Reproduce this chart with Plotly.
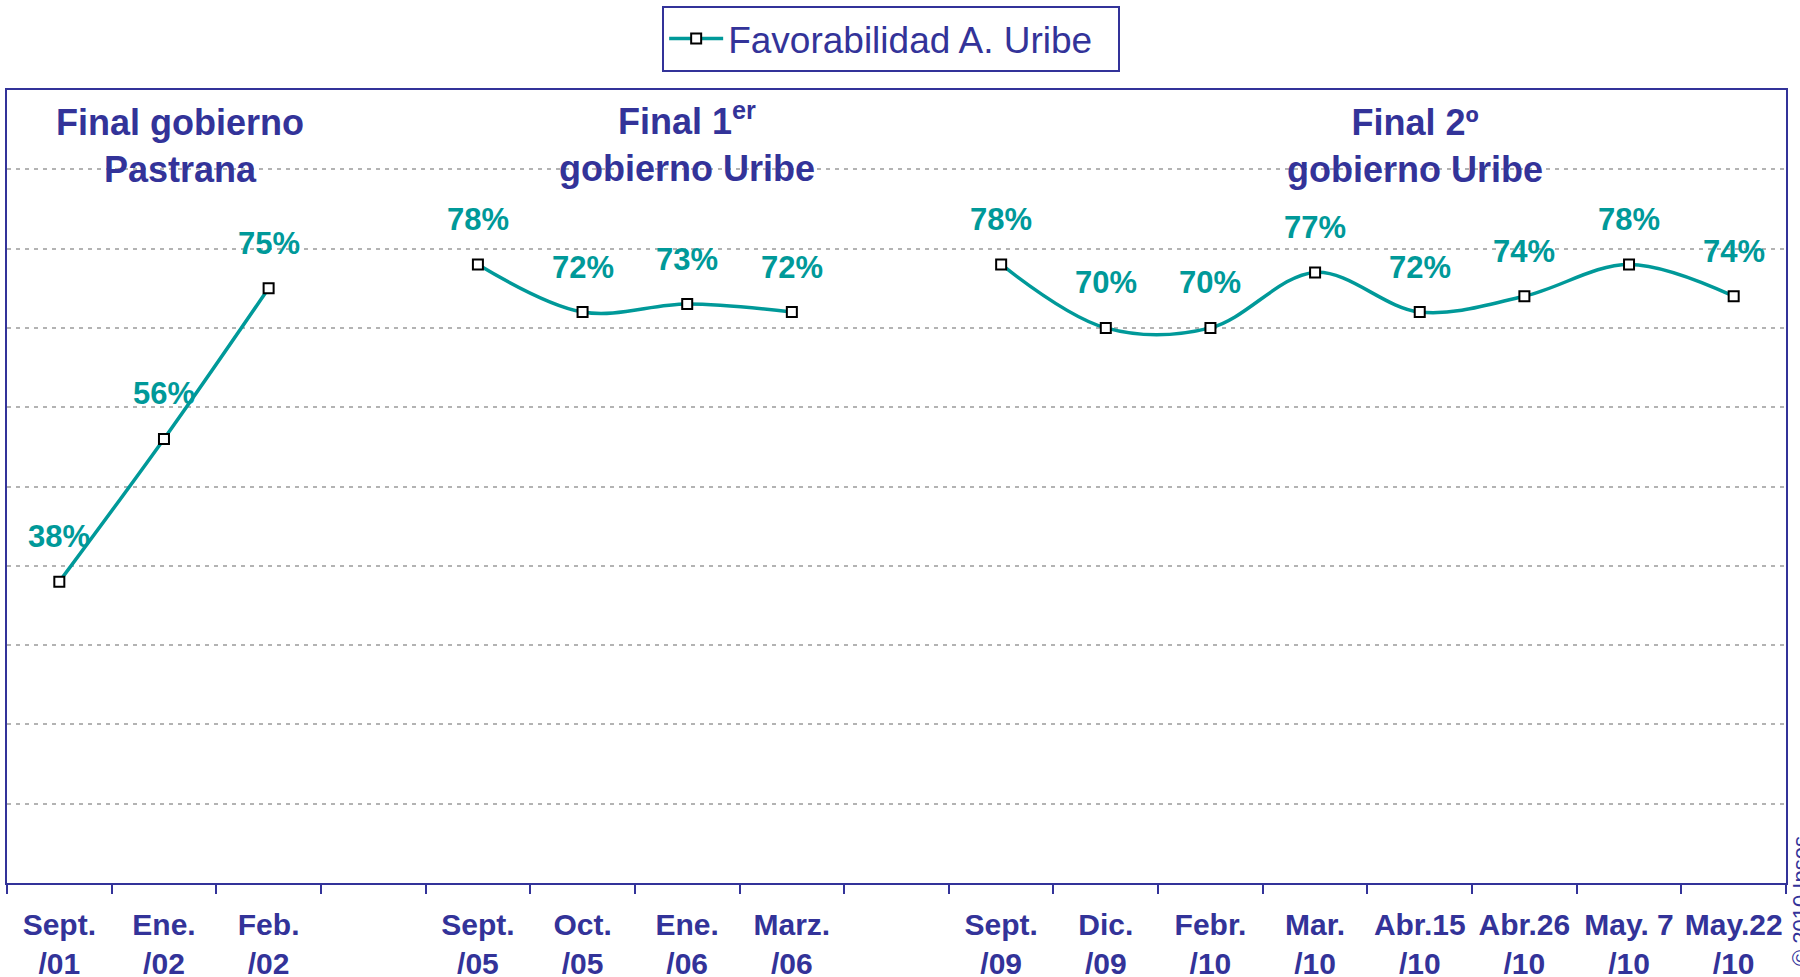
import plotly.graph_objects as go

# ---- data ----
categories = ["Sept.<br>/01", "Ene.<br>/02", "Feb.<br>/02", " ",
              "Sept.<br>/05", "Oct.<br>/05", "Ene.<br>/06", "Marz.<br>/06", "  ",
              "Sept.<br>/09", "Dic.<br>/09", "Febr.<br>/10", "Mar.<br>/10",
              "Abr.15<br>/10", "Abr.26<br>/10", "May. 7<br>/10", "May.22<br>/10"]
favorabilidad = [38, 56, 75, None, 78, 72, 73, 72, None,
                 78, 70, 70, 77, 72, 74, 78, 74]
series_name = "Favorabilidad A. Uribe"

period_titles = ["Final gobierno<br>Pastrana",
                 "Final 1<sup>er</sup><br>gobierno Uribe",
                 "Final 2º<br>gobierno Uribe"]
period_title_x = [1.15, 6.0, 12.95]
period_title_shift = [-10, -4, -10]

NAVY = "#333399"
TEAL = "#009999"
FONT = "Arial, Liberation Sans, sans-serif"

fig = go.Figure()
fig.add_trace(go.Scatter(
    x=categories, y=favorabilidad, name=series_name,
    mode="lines+markers",
    line=dict(color=TEAL, width=3.5, shape="spline", smoothing=1),
    marker=dict(symbol="square", size=10, color="white",
                line=dict(color="black", width=2)),
    connectgaps=False, showlegend=True,
))

annotations = []
for i, v in enumerate(favorabilidad):
    if v is None:
        continue
    annotations.append(dict(
        x=i, y=v, xref="x", yref="y", text=f"{v}%", showarrow=False,
        yshift=45, font=dict(family=FONT, size=31, color=TEAL, weight="bold"),
    ))
for t, xp, ys in zip(period_titles, period_title_x, period_title_shift):
    annotations.append(dict(
        x=xp, y=1, xref="x", yref="paper", yanchor="top", text=t,
        showarrow=False, yshift=ys,
        font=dict(family=FONT, size=36, color=NAVY, weight="bold"),
    ))
annotations.append(dict(
    x=1, y=-0.0227, xref="paper", yref="paper", xanchor="center", yanchor="middle",
    xshift=14, text="© 2010 Ipsos", textangle=-90, showarrow=False,
    font=dict(family=FONT, size=22, color=NAVY),
))

fig.update_layout(
    width=1800, height=977,
    margin=dict(l=7, r=14, t=90, b=94, autoexpand=False),
    paper_bgcolor="white", plot_bgcolor="white",
    font=dict(family=FONT, color=NAVY),
    showlegend=True,
    legend=dict(
        x=0.497, xanchor="center", y=1.106, yanchor="top",
        orientation="h", bordercolor=NAVY, borderwidth=2,
        font=dict(family=FONT, size=37, color=NAVY),
        itemwidth=54, entrywidth=385, bgcolor="white",
    ),
    annotations=annotations,
    xaxis=dict(
        type="category", tickson="boundaries", ticks="outside",
        ticklen=9, tickwidth=2, tickcolor=NAVY, tickangle=0, automargin=False,
        ticklabelstandoff=14,
        showline=True, linecolor=NAVY, linewidth=2, mirror=True,
        showgrid=False, zeroline=False,
        tickfont=dict(family=FONT, size=30, color=NAVY, weight="bold"),
        range=[-0.5, 16.5],
    ),
    yaxis=dict(
        range=[0, 100], dtick=10, showticklabels=False, automargin=False,
        showline=True, linecolor=NAVY, linewidth=2, mirror=True,
        showgrid=True, gridcolor="#b3b3b3", gridwidth=2, griddash="4px,5px",
        zeroline=False, ticks="",
    ),
)

fig.write_html("out.html", config={"displayModeBar": False},
               post_script="document.body.style.margin='0';")
